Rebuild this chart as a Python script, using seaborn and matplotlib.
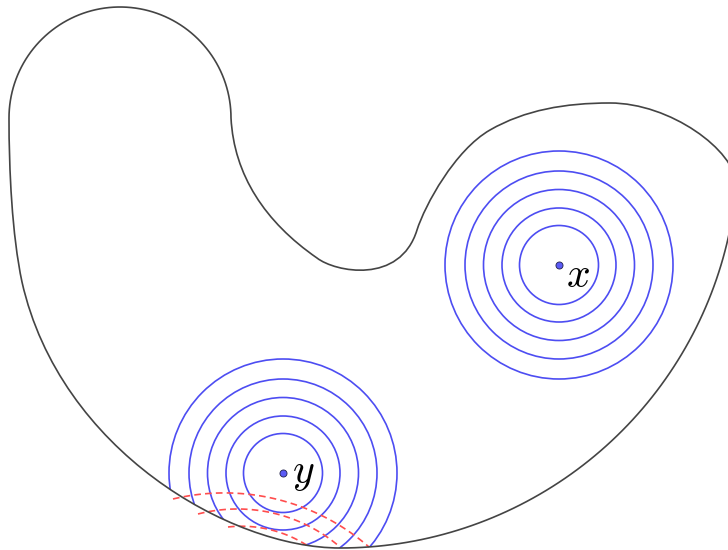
import numpy as np
import pandas as pd
import seaborn as sns
import matplotlib
matplotlib.use('Agg')
import matplotlib.pyplot as plt
from matplotlib.path import Path
from matplotlib.patches import PathPatch, Circle

# points x and y (pixel coordinates, y downwards)
point_names = ['x', 'y']
point_px = [559, 283]
point_py = [265, 473]
label_dx = [7, 9]
label_dy = [22, 10]

# radii of the level circles around each point
radii = [39.5, 57, 75.5, 94, 114]

# red dashed arcs: start, middle, end points
arc_start = [(173, 499), (198, 514), (228, 527)]
arc_mid = [(230, 493), (238, 509), (262, 528)]
arc_end = [(369, 547), (340, 547), (308, 546)]

# outline of the domain
lobe_center = (120, 118)
lobe_r = 111
big_center = (340, 150)
big_r = 398


def circle_arc(c, r, a0, a1, n=80):
    t = np.radians(np.linspace(a0, a1, n))
    return list(zip(c[0] + r * np.cos(t), c[1] + r * np.sin(t)))


def blob_path():
    verts = []
    codes = []
    lobe = circle_arc(lobe_center, lobe_r, 180, 360)
    verts += lobe
    codes += [Path.MOVETO] + [Path.LINETO] * (len(lobe) - 1)
    beziers = [
        [(234, 175), (265, 222), (317, 258)],
        [(335, 272), (400, 285), (417, 230)],
        [(425, 205), (455, 150), (490, 130)],
        [(525, 110), (565, 103), (610, 103)],
        [(670, 103), (735, 150), (736.5, 184.7)],
    ]
    for b in beziers:
        verts += b
        codes += [Path.CURVE4] * 3
    big = circle_arc(big_center, big_r, 5, 90)
    verts += big[1:]
    codes += [Path.LINETO] * (len(big) - 1)
    for b in [[(230, 548), (60, 450), (22, 282)],
              [(12, 235), (9, 170), (9, 118)]]:
        verts += b
        codes += [Path.CURVE4] * 3
    verts.append(verts[0])
    codes.append(Path.CLOSEPOLY)
    return Path(verts, codes)


def arc_through(p0, p1, p2, n=100):
    (x1, y1), (x2, y2), (x3, y3) = p0, p1, p2
    d = 2 * (x1 * (y2 - y3) + x2 * (y3 - y1) + x3 * (y1 - y2))
    ux = ((x1**2 + y1**2) * (y2 - y3) + (x2**2 + y2**2) * (y3 - y1) + (x3**2 + y3**2) * (y1 - y2)) / d
    uy = ((x1**2 + y1**2) * (x3 - x2) + (x2**2 + y2**2) * (x1 - x3) + (x3**2 + y3**2) * (x2 - x1)) / d
    r = np.hypot(x1 - ux, y1 - uy)
    a0 = np.arctan2(y1 - uy, x1 - ux)
    am = np.arctan2(y2 - uy, x2 - ux)
    a2 = np.arctan2(y3 - uy, x3 - ux)
    delta = (a2 - a0) % (2 * np.pi)
    if (am - a0) % (2 * np.pi) < delta:
        t = np.linspace(a0, a0 + delta, n)
    else:
        t = np.linspace(a0, a0 - (2 * np.pi - delta), n)
    return ux + r * np.cos(t), uy + r * np.sin(t)


def main():
    sns.set_theme(style='white')
    plt.rcParams['mathtext.fontset'] = 'cm'

    fig = plt.figure(figsize=(7.28, 5.5), dpi=100)
    ax = fig.add_axes([0, 0, 1, 1])
    ax.set_xlim(0, 728)
    ax.set_ylim(550, 0)
    ax.axis('off')

    blob = PathPatch(blob_path(), facecolor='none', edgecolor='#444444', lw=1.2, zorder=3)
    ax.add_patch(blob)

    for cx, cy in zip(point_px, point_py):
        for r in radii:
            c = Circle((cx, cy), r, facecolor='none', edgecolor='#4d4df2', lw=1.2, zorder=2)
            ax.add_patch(c)
            c.set_clip_path(blob)

    for p0, p1, p2 in zip(arc_start, arc_mid, arc_end):
        xs, ys = arc_through(p0, p1, p2)
        ax.plot(xs, ys, color='#ff4d4d', lw=1.2, ls=(0, (4, 2.5)), zorder=2)

    df = pd.DataFrame({'px': point_px, 'py': point_py, 'name': point_names})
    sns.scatterplot(data=df, x='px', y='py', ax=ax, s=26, color='#5b5bf5',
                    edgecolor='#20204a', linewidth=0.6, zorder=4, legend=False)
    ax.set_xlim(0, 728)
    ax.set_ylim(550, 0)
    ax.axis('off')

    for name, px, py, dx, dy in zip(point_names, point_px, point_py, label_dx, label_dy):
        ax.text(px + dx, py + dy, '$' + name + '$', fontsize=30, ha='left', va='baseline',
                color='black', zorder=5)

    fig.savefig('out.png', dpi=100)


if __name__ == '__main__':
    main()
